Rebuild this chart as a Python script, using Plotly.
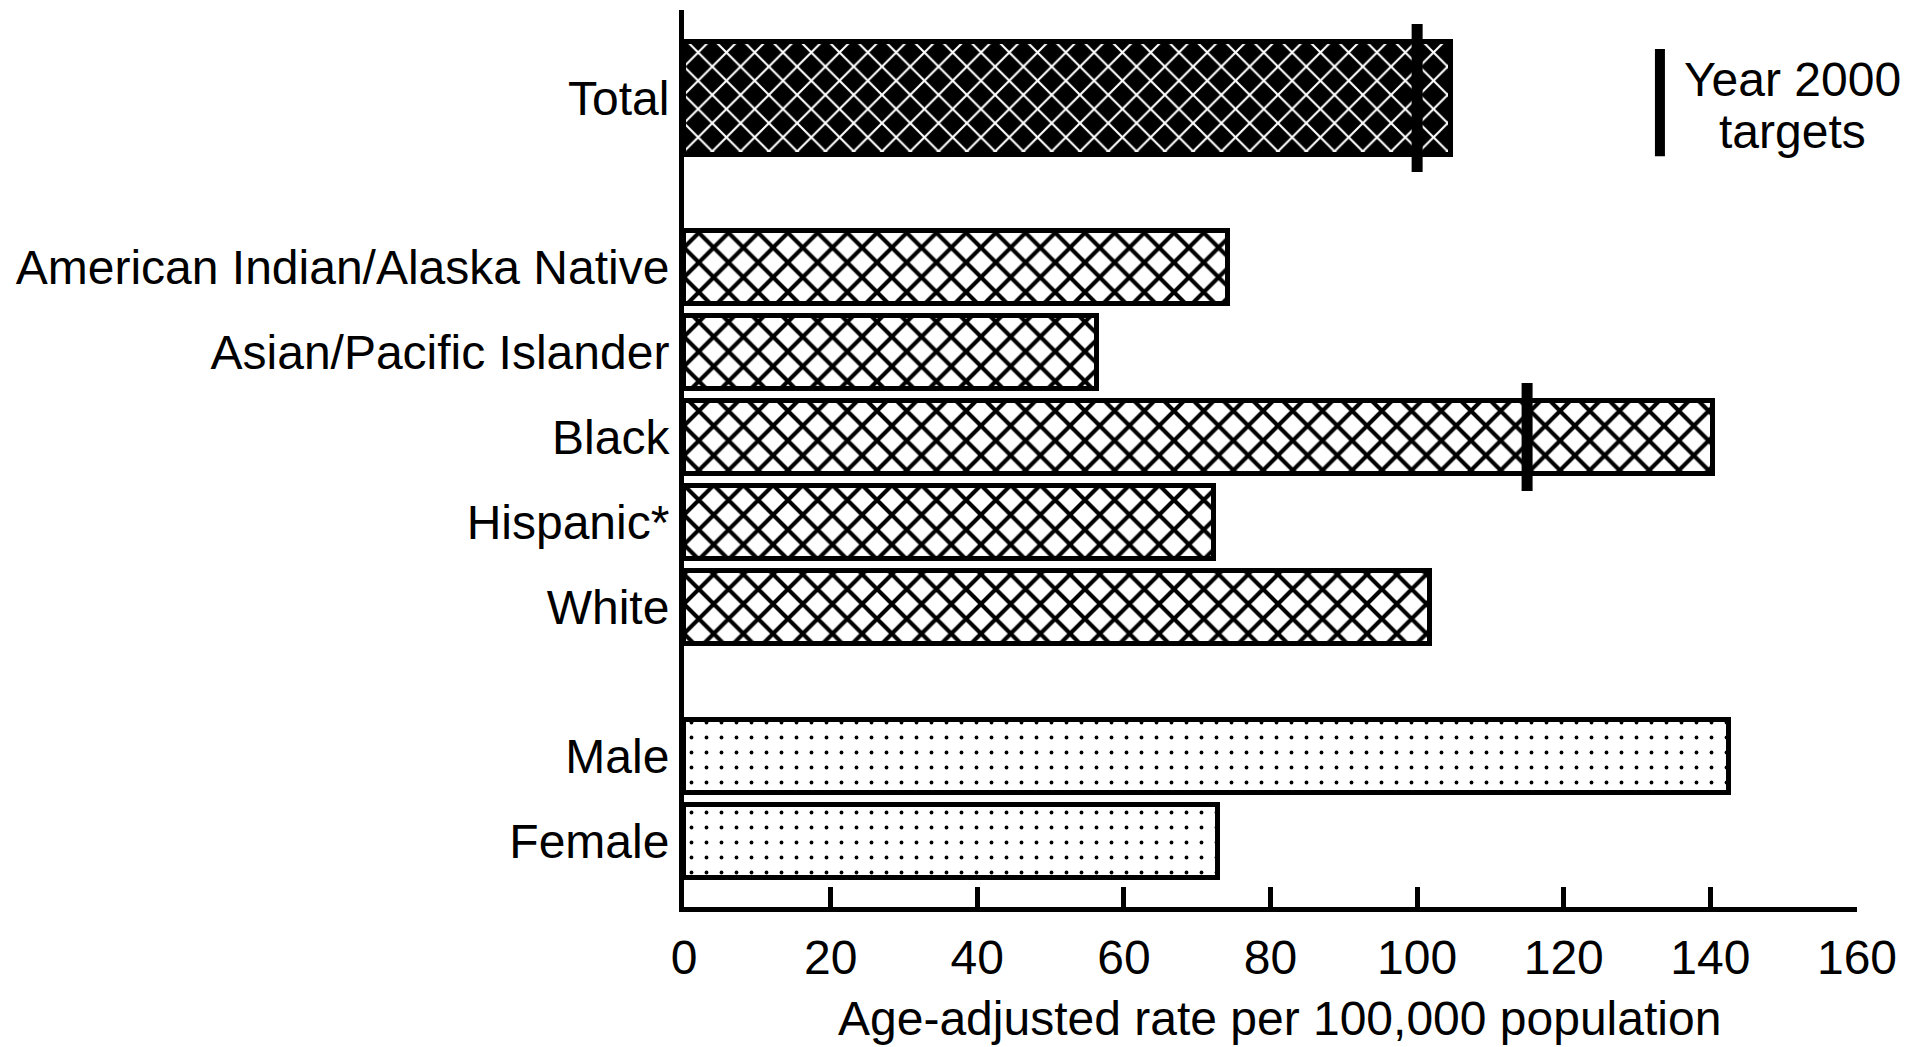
import plotly.graph_objects as go

# ---------------- data ----------------
categories_total = ["Total"]
values_total = [104.6]

categories_race = ["American Indian/Alaska Native", "Asian/Pacific Islander",
                   "Black", "Hispanic*", "White"]
values_race = [74.2, 56.3, 140.3, 72.3, 101.7]

categories_sex = ["Male", "Female"]
values_sex = [142.6, 72.8]

target_categories = ["Total", "Black"]
target_values = [100, 115]

x_tick_values = [0, 20, 40, 60, 80, 100, 120, 140, 160]
x_title = "Age-adjusted rate per 100,000 population"
legend_lines = ["Year 2000", "targets"]

# ---------------- layout constants ----------------
FONT = "Liberation Sans, Arial, sans-serif"
FS = 48
TOP_PAD = 29          # y units (≈px) above first bar
BAR_OUT_TOTAL = 118   # outer thickness of Total bar
BAR_OUT = 78          # outer thickness of other bars
PITCH = 85            # centre-to-centre spacing within a group
GROUP_GAP = 71        # edge-to-edge gap between groups
LINE_W = 5
TARGET_OVERHANG = 15
Y_RANGE_END = 897

groups = [
    (categories_total, values_total, BAR_OUT_TOTAL,
     dict(shape="x", bgcolor="black", fgcolor="white", size=20, solidity=0.2)),
    (categories_race, values_race, BAR_OUT,
     dict(shape="x", bgcolor="white", fgcolor="black", size=21, solidity=0.35)),
    (categories_sex, values_sex, BAR_OUT,
     dict(shape=".", bgcolor="white", fgcolor="black", size=15, solidity=0.05)),
]

# compute y positions
positions = {}
thickness = {}
edge = TOP_PAD - GROUP_GAP
for cats, vals, outer, _ in groups:
    edge += GROUP_GAP
    for i, c in enumerate(cats):
        centre = edge + outer / 2 + i * PITCH
        positions[c] = centre
        thickness[c] = outer
    edge = positions[cats[-1]] + outer / 2

fig = go.Figure()
for cats, vals, outer, pat in groups:
    fig.add_trace(go.Bar(
        x=vals,
        y=[positions[c] for c in cats],
        width=[outer - LINE_W] * len(cats),
        orientation="h",
        marker=dict(color=pat["bgcolor"],
                    line=dict(color="black", width=LINE_W),
                    pattern=dict(fillmode="replace", **pat)),
        showlegend=False,
        hoverinfo="x+text",
        text=cats,
        textposition="none",
    ))

# target markers
for c, t in zip(target_categories, target_values):
    half = thickness[c] / 2 + TARGET_OVERHANG
    fig.add_shape(type="line", xref="x", yref="y",
                  x0=t, x1=t, y0=positions[c] - half, y1=positions[c] + half,
                  line=dict(color="black", width=11), layer="above")

# legend
fig.add_shape(type="line", xref="paper", yref="paper",
              x0=0.832, x1=0.832, y0=0.837, y1=0.9565,
              line=dict(color="black", width=10))
for txt, yp in zip(legend_lines, [0.922, 0.8651]):
    fig.add_annotation(xref="paper", yref="paper", x=0.9454, y=yp,
                       text=txt, showarrow=False, align="center",
                       xanchor="center", yanchor="middle",
                       font=dict(family=FONT, size=FS, color="black"))

# x-axis title
fig.add_annotation(xref="paper", yref="paper", x=0.508, y=-0.124,
                   text=x_title, showarrow=False,
                   xanchor="center", yanchor="middle",
                   font=dict(family=FONT, size=FS, color="black"))

all_cats = [c for g in groups for c in g[0]]
fig.update_layout(
    width=1905, height=1039,
    margin=dict(l=676, r=56, t=2, b=140),
    plot_bgcolor="white", paper_bgcolor="white",
    font=dict(family=FONT, size=FS, color="black"),
    bargap=0,
    xaxis=dict(range=[0, 160], tickvals=x_tick_values,
               showgrid=False, zeroline=False, automargin=False,
               showline=True, linecolor="black", linewidth=LINE_W,
               ticks="inside", ticklen=20, tickwidth=LINE_W, tickcolor="black",
               ticklabelstandoff=4,
               tickfont=dict(family=FONT, size=FS)),
    yaxis=dict(range=[Y_RANGE_END, 0],
               tickvals=[positions[c] for c in all_cats], ticktext=all_cats,
               showgrid=False, zeroline=False, automargin=False,
               showline=True, linecolor="black", linewidth=LINE_W,
               ticks="", tickfont=dict(family=FONT, size=FS)),
)

fig.write_html("out.html")
